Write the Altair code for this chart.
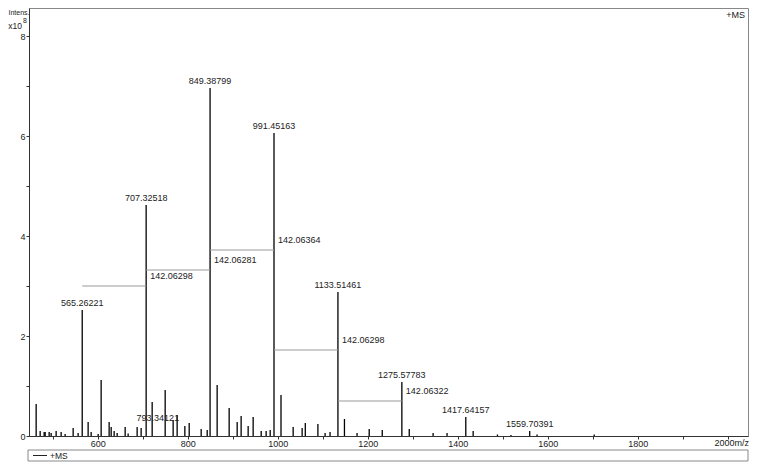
import altair as alt
import pandas as pd

FONT = "Liberation Sans, Arial, sans-serif"

# spectrum peaks (m/z, intensity in units of 1e8)
mz = [462.9, 471.8, 480.7, 482.9, 491.8, 496.2, 507.3, 518.4, 527.3, 545.1,
      556.2, 565.26221, 578.4, 585.1, 600.7, 607.3, 625.1, 629.6, 636.2, 642.9,
      660.7, 667.3, 687.3, 696.2, 707.32518, 720.7, 749.6, 767.3, 776.2, 793.34121,
      803.0, 829.6, 843.0, 849.38799, 865.1, 891.8, 909.6, 918.4, 934.0, 945.1,
      963.0, 974.0, 983.0, 991.45163, 1007.0, 1034.0, 1054.0, 1061.0, 1089.0, 1105.0,
      1116.0, 1133.51461, 1148.0, 1176.0, 1203.0, 1232.0, 1275.57783, 1292.0, 1345.0, 1376.0,
      1417.64157, 1434.0, 1488.0, 1518.0, 1559.70391, 1576.0, 1703.0]
intensity = [0.64, 0.10, 0.08, 0.08, 0.08, 0.06, 0.10, 0.08, 0.04, 0.16,
             0.06, 2.52, 0.28, 0.08, 0.04, 1.12, 0.28, 0.18, 0.10, 0.06,
             0.18, 0.05, 0.18, 0.16, 4.62, 0.68, 0.92, 0.32, 0.42, 0.20,
             0.26, 0.14, 0.12, 6.96, 1.02, 0.56, 0.28, 0.40, 0.20, 0.38,
             0.10, 0.10, 0.12, 6.06, 0.82, 0.18, 0.16, 0.26, 0.24, 0.06,
             0.08, 2.88, 0.34, 0.06, 0.14, 0.12, 1.08, 0.14, 0.06, 0.06,
             0.38, 0.10, 0.03, 0.02, 0.10, 0.03, 0.03]

peak_mz = [565.26221, 707.32518, 849.38799, 991.45163, 1133.51461, 1275.57783, 1417.64157, 1559.70391]
peak_int = [2.52, 4.62, 6.96, 6.06, 2.88, 1.08, 0.38, 0.10]
peak_text = ["565.26221", "707.32518", "849.38799", "991.45163", "1133.51461",
             "1275.57783", "1417.64157", "1559.70391"]

side_mz = [793.34121]
side_int = [0.20]
side_text = ["793.34121"]

diff_from = [565.26221, 707.32518, 849.38799, 991.45163, 1133.51461]
diff_to = [707.32518, 849.38799, 991.45163, 1133.51461, 1275.57783]
diff_level = [3.00, 3.32, 3.72, 1.72, 0.70]
diff_text = ["142.06298", "142.06281", "142.06364", "142.06298", "142.06322"]

x_ticks = list(range(500, 2001, 100))
y_ticks = [0, 1, 2, 3, 4, 5, 6, 7, 8]

W, H = 719, 428

spec = pd.DataFrame({"mz": mz, "i": intensity})
peaks = pd.DataFrame({"mz": peak_mz, "i": peak_int, "t": peak_text})
side = pd.DataFrame({"mz": side_mz, "i": side_int, "t": side_text})
diffs = pd.DataFrame({"a": diff_from, "b": diff_to, "y": diff_level, "t": diff_text})

xs = alt.Scale(domain=[447, 447 + W / 0.45], nice=False, zero=False)
ys = alt.Scale(domain=[0, 8.56], nice=False)

xaxis = alt.Axis(values=x_ticks, format="d", title=None, grid=False,
                 labelExpr="datum.value % 200 == 0 && datum.value >= 600 && datum.value < 2000 ? datum.label : ''",
                 tickSize=3, labelPadding=0, labelFlush=False, labelOverlap=False,
                 domainColor="#333", tickColor="#333", labelColor="#222",
                 labelFont=FONT, labelFontSize=9)
yaxis = alt.Axis(values=y_ticks, format="d", title=None, grid=False,
                 labelExpr="datum.value % 2 == 0 ? datum.label : ''",
                 tickSize=3, labelPadding=1, labelOverlap=False,
                 domainColor="#333", tickColor="#333", labelColor="#222",
                 labelFont=FONT, labelFontSize=9)

bars = alt.Chart(spec).mark_rule(color="#000", strokeWidth=1.3).encode(
    x=alt.X("mz:Q", scale=xs, axis=xaxis),
    y=alt.Y("i:Q", scale=ys, axis=yaxis),
    y2=alt.datum(0),
)

diff_lines = alt.Chart(diffs).mark_rule(color="#999", strokeWidth=1).encode(
    x=alt.X("a:Q", scale=xs), x2="b:Q", y=alt.Y("y:Q", scale=ys))
diff_labels = alt.Chart(diffs).mark_text(align="left", baseline="middle", dx=4, dy=-10,
                                         font=FONT, fontSize=9, color="#222").encode(
    x=alt.X("b:Q", scale=xs), y=alt.Y("y:Q", scale=ys), text="t:N")

peak_labels = alt.Chart(peaks).mark_text(align="center", baseline="middle", dy=-7,
                                         font=FONT, fontSize=9, color="#222").encode(
    x=alt.X("mz:Q", scale=xs), y=alt.Y("i:Q", scale=ys), text="t:N")
side_labels = alt.Chart(side).mark_text(align="center", baseline="middle", dx=-27, dy=-8,
                                        font=FONT, fontSize=9, color="#222").encode(
    x=alt.X("mz:Q", scale=xs), y=alt.Y("i:Q", scale=ys), text="t:N")

one = alt.Data(values=[{}])

def txt(s, x, y, align="left", size=9, baseline="middle"):
    return alt.Chart(one).mark_text(text=s, align=align, baseline=baseline,
                                    font=FONT, fontSize=size, color="#222").encode(
        x=alt.value(x), y=alt.value(y))

intens = txt("Intens.", -20.5, 5, "left", 7)
x10 = txt("x10", -7, 17.5, "right", 8.5)
sup8 = txt("8", -6, 13, "left", 7)
ms_top = txt("+MS", 716, 7, "right")
mz_lab = txt("2000m/z", 720, 431, "right", 9, "top")

legend_box = alt.Chart(one).mark_rect(fill="white", stroke="#888", strokeWidth=1).encode(
    x=alt.value(-1), x2=alt.value(719), y=alt.value(442), y2=alt.value(453))
legend_line = alt.Chart(one).mark_rule(color="#222", strokeWidth=1).encode(
    x=alt.value(4), x2=alt.value(18), y=alt.value(447.5))
legend_txt = txt("+MS", 21, 447.5, "left", 8.5)

chart = alt.layer(
    bars, diff_lines, diff_labels, peak_labels, side_labels,
    intens, x10, sup8, ms_top, mz_lab, legend_box, legend_line, legend_txt
).properties(
    width=W, height=H,
    padding={"left": 21, "top": 0, "right": 1, "bottom": 26},
    autosize=alt.AutoSizeParams(type="none"),
).configure_view(stroke="#888", strokeWidth=1)

chart.save("out.html", embed_options={"renderer": "svg", "actions": False})
